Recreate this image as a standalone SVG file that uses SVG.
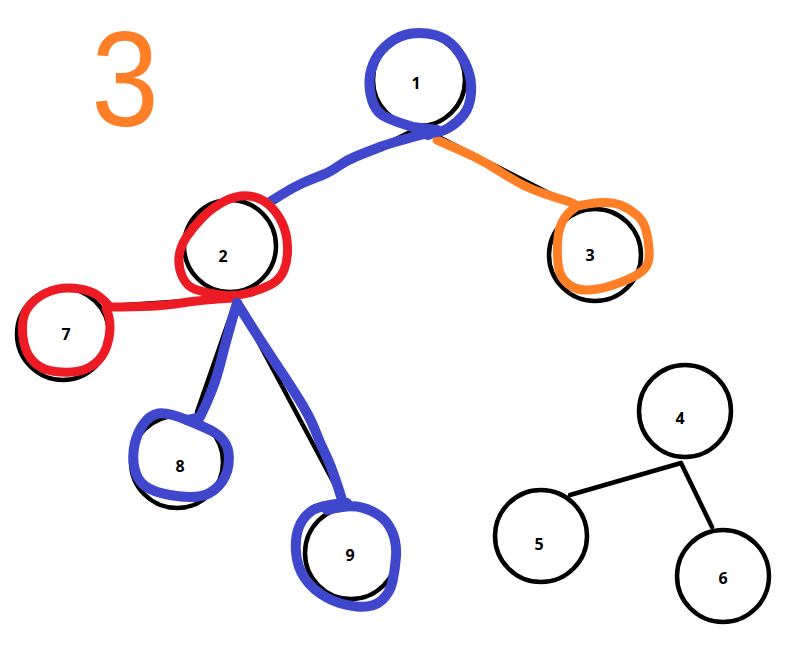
<svg xmlns="http://www.w3.org/2000/svg" width="798" height="646" viewBox="0 0 798 646">
<style>
.edge{stroke:#000;stroke-width:4.5;fill:none;stroke-linecap:round}
.node circle{fill:#fff;stroke:#000;stroke-width:4.5}
.node text{font-family:"Noto Sans","DejaVu Sans",sans-serif;font-weight:bold;font-size:16px;text-anchor:middle;fill:#000}
.mark{fill:none;stroke-linecap:round;stroke-linejoin:round;stroke-width:9}
.blue{stroke:#3f48cc;stroke-width:10}
.red{stroke:#ed1c24}
.orange{stroke:#ff7f27}
</style>
<rect width="798" height="646" fill="#fff"/>
<g id="connectors">
<line class="edge" x1="420" y1="127" x2="268" y2="203"/>
<line class="edge" x1="425" y1="130" x2="578" y2="208"/>
<line class="edge" x1="232" y1="298" x2="110" y2="306"/>
<line class="edge" x1="236" y1="300" x2="197" y2="412"/>
<line class="edge" x1="236" y1="300" x2="343" y2="500"/>
<line class="edge" x1="681" y1="463" x2="570" y2="495"/>
<line class="edge" x1="681" y1="463" x2="712" y2="527"/>
</g>
<g id="node1" class="node"><circle cx="419" cy="80" r="46"/><text x="416" y="89">1</text></g>
<g id="node2" class="node"><circle cx="230" cy="246" r="46"/><text x="223" y="262">2</text></g>
<g id="node3" class="node"><circle cx="595" cy="255" r="46"/><text x="590" y="261">3</text></g>
<g id="node4" class="node"><circle cx="685" cy="411" r="46"/><text x="680" y="424">4</text></g>
<g id="node5" class="node"><circle cx="541" cy="536" r="46"/><text x="539" y="550">5</text></g>
<g id="node6" class="node"><circle cx="723" cy="576" r="46"/><text x="723" y="584">6</text></g>
<g id="node7" class="node"><circle cx="63" cy="334" r="46"/><text x="66" y="340">7</text></g>
<g id="node8" class="node"><circle cx="177" cy="462" r="46"/><text x="180" y="472">8</text></g>
<g id="node9" class="node"><circle cx="351" cy="553" r="46"/><text x="350" y="561">9</text></g>
<g id="annotations">
<path class="mark orange" d="M437,140 Q460,150 472.5,156 Q485,162 499,171 Q513,180 523,185 Q533,190 545,194 Q557,198 568.5,201.5 Q580,205 573.5,209 Q567,213 562.5,221.5 Q558,230 557.5,243.5 Q557,257 558.5,267 Q560,277 567.5,283.5 Q575,290 586,290 Q597,290 610,286 Q623,282 633,277 Q643,272 646.5,266 Q650,260 649,248.5 Q648,237 645.5,228.5 Q643,220 635.5,214 Q628,208 620.5,205 Q613,202 601.5,202.5 Q590,203 573,207"/>
<path class="mark blue" d="M437,130 L413,127 Q390,120 382,115 Q375,110 372,100 Q369,90 369.5,80 Q370,70 375,60 Q380,50 390,42.5 Q400,35 411.5,33.5 Q423,32 435,35 Q447,38 455,47.5 Q463,57 467.5,68.5 Q472,80 471,93.5 Q470,107 463.5,115 Q457,123 448.5,128 Q440,133 428,133"/>
<path class="mark blue" d="M428,133 Q393,142 380,147 Q367,152 357,156 Q347,160 338.5,166 Q330,172 323.5,174.5 Q317,177 305,182 Q293,187 270,202"/>
<circle cx="428" cy="133" r="7" fill="#3f48cc"/>
<path class="mark red" d="M225,201 Q237,195 248.5,196 Q260,197 268.5,204.5 Q277,212 282,222.5 Q287,233 287.5,246.5 Q288,260 284,270 Q280,280 270,285 Q260,290 246.5,293.5 Q233,297 220,295 Q207,293 197,290 Q187,287 182.5,277 Q178,267 179,257 Q180,247 186.5,237 Q193,227 203,217 Q213,207 225,201 Z"/>
<path class="mark red" d="M233,298 Q200,300 178.5,303.5 Q157,307 110,307"/>
<path class="mark red" d="M110,307 Q100,295 90,291.5 Q80,288 68.5,288 Q57,288 47,292.5 Q37,297 30,305 Q23,313 22.5,325 Q22,337 25,347 Q28,357 35.5,363.5 Q43,370 55,371.5 Q67,373 77,371.5 Q87,370 95,363.5 Q103,357 106.5,347 Q110,337 110,327 Q110,317 106,308"/>
<path class="mark blue" d="M237,303 Q227,337 222,357 Q217,377 212,390 Q207,403 200,417 L187,420"/>
<path class="mark blue" d="M187,420 Q167,412 158.5,413.5 Q150,415 143.5,424 Q137,433 134.5,445 Q132,457 134.5,468.5 Q137,480 145,486 Q153,492 170,495 Q187,498 198.5,496.5 Q210,495 218.5,486 Q227,477 228.5,464.5 Q230,452 226,444.5 Q222,437 214.5,432.5 Q207,428 187,420"/>
<path class="mark blue" d="M237,303 Q260,340 273.5,360 Q287,380 298.5,398.5 Q310,417 315,430 Q320,443 326.5,456.5 Q333,470 343,503"/>
<path class="mark blue" d="M347,503 Q320,505 311.5,511 Q303,517 299,527 Q295,537 296,552 Q297,567 305,578.5 Q313,590 326.5,597.5 Q340,605 356.5,606.5 Q373,608 381.5,600.5 Q390,593 392.5,581.5 Q395,570 396,556.5 Q397,543 392,531.5 Q387,520 377,514 Q367,508 357,506.5 Q347,505 327,510"/>
<text transform="translate(125,0) scale(0.9,1)" x="0" y="126" font-family="Liberation Sans, Arial, sans-serif" font-size="135" text-anchor="middle" fill="#ff7f27">3</text>
</g>
</svg>
